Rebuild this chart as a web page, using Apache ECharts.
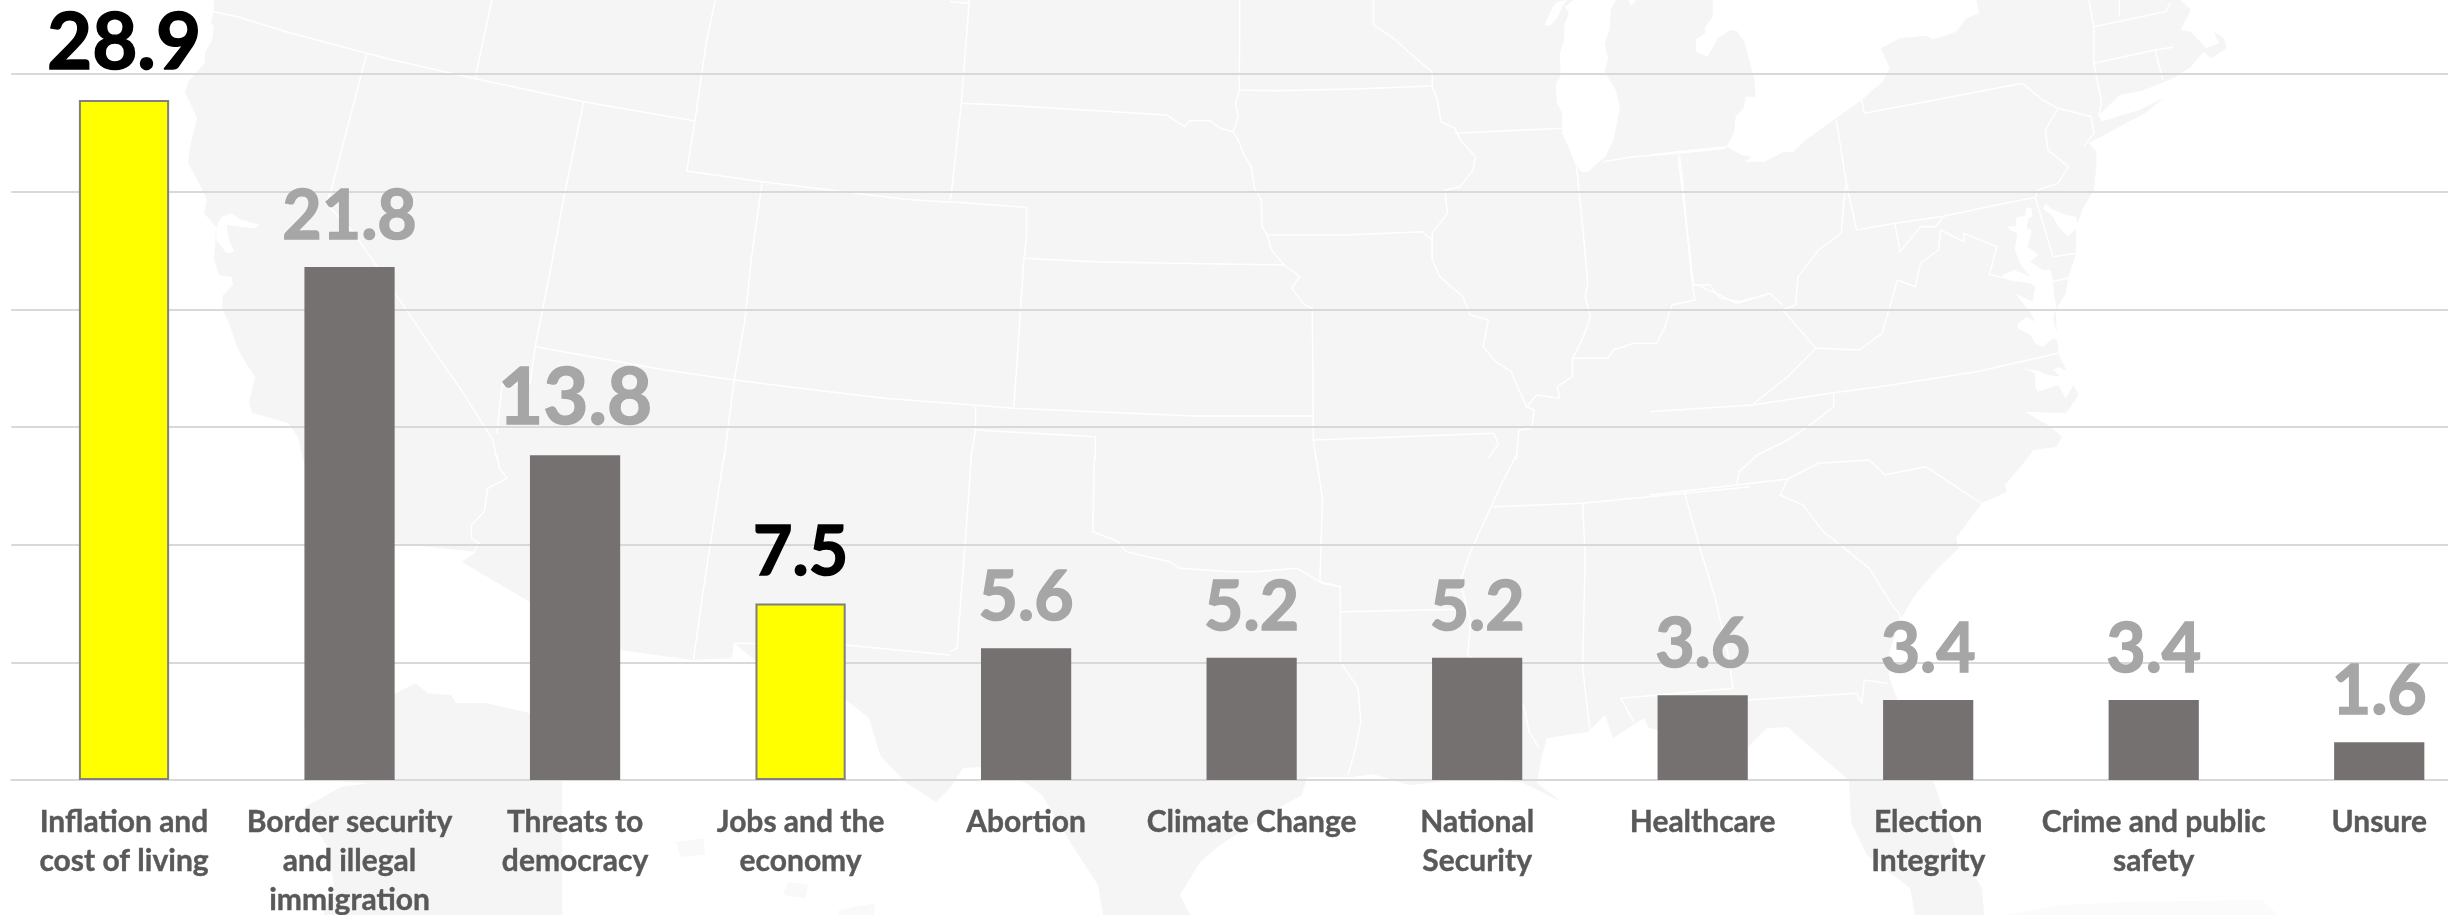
<!DOCTYPE html>
<html><head><meta charset="utf-8">
<style>html,body{margin:0;padding:0;background:#fff}#c{width:2448px;height:915px}</style>
<script src="https://cdn.jsdelivr.net/npm/echarts@6/dist/echarts.min.js"></script>
</head><body><div id="c"></div>
<script>
const categories = ["Inflation and\ncost of living","Border security\nand illegal\nimmigration","Threats to\ndemocracy","Jobs and the\neconomy","Abortion","Climate Change","National\nSecurity","Healthcare","Election\nIntegrity","Crime and public\nsafety","Unsure"];
const values = [28.9,21.8,13.8,7.5,5.6,5.2,5.2,3.6,3.4,3.4,1.6];
const highlighted = [0,3];
const largeLabels = [0,2];

// Decorative backdrop map (zoom-tile coordinates -> page pixels)
const T=(ox,oy,p)=>{const r=[];for(let i=0;i<p.length;i+=2)r.push([ox+p[i]/1.96,oy+p[i+1]/3]);return r;};
const z4=p=>T(150,0,p),z5=p=>T(150,455,p),z6=p=>T(950,0,p),z7=p=>T(950,455,p),z8=p=>T(1650,0,p),z9=p=>T(1650,455,p);
const F=p=>{const r=[];for(let i=0;i<p.length;i+=2)r.push([p[i],p[i+1]]);return r;};
const land=[].concat(
 F([214,0,214,12,211,22,214,27,212,40,205,53,205,63,188,82,185,92,197,118,191,142,188,163,201,187,207,200,204,213,216,227,215,247,214,260,219,275,232,277,233,285,223,295,222,308,229,323,237,347,244,360,255,377,249,403,252,413,267,417,288,423,298,437,303,460,390,537,394,543,476,552,462,562,530,602,619,650,693,660,732,658,734,643,755,660,846,700,869,718,880,755,905,782,936,802,950,788,963,768,980,767,1026,783,1042,795,1072,845,1098,885,1103,915,1190,915,1180,895,1200,862,1220,845,1266,815,1302,795,1307,777,1353,777,1373,774,1409,785,1460,780,1521,782,1562,802,1537,783,1542,755,1547,738,1588,732,1605,715,1613,738,1644,718,1649,728,1747,748,1767,728,1788,727,1808,745,1849,780,1851,822,1867,855,1910,888,1915,915,1984,915,1982,888,1956,848,1933,780,1905,720,1890,680,1887,660,1900,620,1915,595,1938,568,1959,548,1956,538,1982,503,2007,492,2005,485,2030,455,2033,450,2056,447,2062,437]),
 z8([785,1280,735,1235,815,1240,840,1185,830,1155,800,1060,795,930,815,880,820,830,835,760,835,680,850,620,870,570,875,500,875,455,860,430,890,405,970,340,1008,292,960,330,925,345,885,365,880,345,920,285,965,272,1030,232,1060,200,1085,155,1100,175,1130,145,1125,115,1105,95,1115,130,1090,145,1060,95,1040,90,1060,30,1040,0])
);
const whites=[
 z6([1222,0,1305,0,1295,30,1293,90,1283,130,1290,175,1283,215,1305,270,1313,325,1300,420,1285,470,1250,515,1237,515,1225,490,1212,440,1200,400,1200,340,1190,310,1187,255,1197,225,1195,160,1203,125,1205,70,1213,40,1205,20]),
 z6([1210,0,1190,5,1180,25,1165,75,1175,78,1190,55,1200,20]),
 z6([1330,0,1335,18,1345,0]),
 z8([123,0,123,50,108,80,108,100,90,118,90,155,113,170,133,115,158,90,170,92,185,125,205,240,207,290,188,290,183,325,168,350,165,395,150,440,180,465,200,470,185,485,225,485,262,455,282,455,305,420,360,360,415,300,440,265,455,248,470,205,460,170,452,145,490,115,540,107,555,118,600,95,620,55,645,40,640,0]),
 z8([738,622,748,625,750,650,742,655,738,685,748,690,745,710,740,740,762,765,745,785,770,810,785,810,790,840,792,880,796,920,790,960,805,1030,790,1015,770,1040,755,1030,745,1005,720,985,722,970,738,950,755,965,745,935,715,880,750,905,755,860,745,850,700,840,690,825,715,810,745,830,725,790,715,750,720,700,705,690,700,680,718,678,718,652,735,648]),
 z8([775,610,785,625,815,645,835,650,838,680,820,710,800,680,790,650,770,625]),
 z8([730,1105,755,1120,755,1160,760,1175,800,1155,815,1195,830,1155,825,1120,800,1100,790,1110,805,1130,780,1125,760,1112]),
 z4([130,680,140,650,160,640,180,660,215,675,205,685,150,675,155,720,165,755,150,760,130,720])
];
const mexicoPatch=z5([302,800,478,718,520,685,545,715,590,720,600,745,660,745,745,775,808,800,808,1380,340,1380,360,1290,350,1180,300,1060,375,995,430,985,330,975]);
const faintPatches=[z5([1240,1320,1250,1280,1290,1290,1285,1330]),z5([1350,1365,1420,1345,1420,1380,1350,1380]),z5([1030,1160,1085,1150,1088,1200,1040,1205])];
const cubaGlow=z9([700,1380,800,1350,950,1340,1200,1335,1230,1380]);
const lines=[
 z4([125,35,175,52,270,97,425,160,470,178,640,237,850,305,1000,345,1068,363]),
 z4([425,160,355,570,345,610,400,700,445,800,560,1060,610,1170,672,1320,680,1380]),
 z5([680,0,685,40,700,70,662,100,655,170,630,210,630,250,645,265,635,290]),
 z4([670,0,637,237]),
 z4([850,305,810,600,785,810,755,1040,745,1150,690,1155,680,1300]),
 z4([755,1040,1010,1110,1145,1140,1315,1172,1440,1195,1568,1210]),
 z4([1108,0,1090,130,1068,363,1052,513,1200,545,1360,575,1480,598,1568,607]),
 z4([1200,545,1180,760,1165,970,1145,1140,1125,1380]),
 z5([1125,0,1085,400,1065,615]),
 z5([1145,565,1362,570,1568,600]),
 z6([0,605,150,622,150,710,145,775,285,785,440,790,655,795,685,830,670,865,695,915,710,925,712,1248,712,1320,718,1380]),
 z6([145,775,125,1225]),
 z6([0,1210,125,1225,285,1235,480,1248,712,1248]),
 z6([0,5,38,10]),z6([38,0,22,310,5,550,0,605]),
 z6([22,310,100,315,425,345,460,380,470,362,510,362,530,385,555,395,565,420,575,460,590,500,597,565,610,600,612,680,622,705,630,750,655,795]),
 z6([622,705,775,705,925,695,945,720]),
 z6([568,0,567,270,640,272,790,267,945,258]),z6([567,270,560,310,565,350,555,395]),
 z6([830,0,830,75,865,110,895,150,915,178,945,215,945,258,955,300,962,365,990,385,1000,420,1030,470,1025,510,1000,560,970,570,975,640,945,700,945,780,960,830,1005,890,1020,945,1055,960,1045,1040,1070,1085,1100,1115,1115,1170,1130,1220,1145,1230,1140,1285,1115,1290,1110,1380]),
 z7([1110,0,1080,90,1050,190,1020,290,1000,380,1020,500,1015,600]),
 z6([990,400,1050,395,1200,385]),
 z6([1228,500,1240,680,1250,850,1245,890,1255,950,1240,1015,1220,1075,1220,1130,1190,1160,1195,1195,1150,1185,1130,1220]),
 z6([1220,1075,1290,1075,1300,1050,1340,1030,1385,1030,1400,985,1415,915,1460,900,1455,855,1490,855,1510,895,1550,905,1568,895]),
 z6([1430,470,1435,530,1445,700,1455,850]),
 z6([1280,485,1340,470,1425,460,1520,445]),
 z6([50,1220,50,1290,285,1310,285,1380]),z6([50,1290,40,1380]),
 z7([283,0,280,230,330,260,345,290,430,320,450,340,550,350,600,350,680,340,730,385,765,395,765,620,800,700,805,800,795,880,780,960]),
 z7([42,0,30,260,14,580,0,590]),
 z6([712,1320,860,1312,1065,1300,1075,1330,1055,1375]),
 z7([717,0,730,130,725,380,765,395]),z7([765,470,1000,463]),
 z7([1065,155,1240,145,1440,115,1568,95]),
 z7([1240,145,1245,300,1240,640,1255,835]),
 z7([1440,115,1470,280,1500,430,1525,600,1535,700,1315,730,1340,800]),
 z7([1015,600,1125,755,1135,830,1155,880]),
 z9([190,735,405,715,415,745,420,675,465,685]),
 z8([0,1235,200,1215,360,1178,450,1160,640,1115,800,1060]),
 z8([360,1178,360,1220,310,1280,270,1320,210,1365]),z9([210,0,175,50,170,90]),
 z9([0,120,270,72,330,25,430,15,460,60,540,35,650,145]),
 z9([270,72,255,120,300,150,340,230,430,340,470,440,490,480,490,520]),
 z8([200,1215,270,1130,325,1045,260,930,285,915,290,830,330,750,375,700,380,600,385,550,365,360]),
 z8([385,550,405,690,480,670,570,650,680,615,755,592,790,770,835,760]),
 z8([85,850,130,880,170,910,235,880,260,915]),z8([55,465,85,850]),
 z8([0,465,55,455,150,440]),
 z8([415,300,420,340,540,305,730,250,770,300,800,325,865,350,870,400,850,440]),
 z8([800,325,775,390,780,450,820,500,800,550,760,570,755,592]),
 z8([480,670,490,755,530,680,560,680,575,650]),
 z8([325,1045,410,1050,455,1000,470,920,485,840,520,860,530,790,565,750,570,690,615,725,615,700,680,740,665,825,720,840]),
 z8([790,845,820,833]),
 z8([860,0,870,80,870,190,885,305,880,345]),z8([870,80,1010,35,1020,10]),z8([870,190,990,150,1025,142]),z8([990,150,1005,240]),z8([920,0,920,50])
];
const graphicEls=[];
const poly=(pts,fill)=>graphicEls.push({type:'polygon',silent:true,z:-10,shape:{points:pts},style:{fill:fill}});
poly(land,'#f5f5f5');poly(mexicoPatch,'#f5f5f5');
faintPatches.forEach(p=>poly(p,'#f9f9f9'));poly(cubaGlow,'#fbfbfb');
whites.forEach(p=>poly(p,'#ffffff'));
lines.forEach(p=>graphicEls.push({type:'polyline',silent:true,z:-9,shape:{points:p},style:{stroke:'#ffffff',lineWidth:1.5,fill:null}}));

const font='Lato';
const barData=values.map((v,i)=>{
  const hi=highlighted.includes(i), big=largeLabels.includes(i), col=hi?'#000000':'#a6a6a6';
  return {value:v,
    itemStyle:hi?{color:'#ffff00',borderColor:'#7f7f7f',borderWidth:2}:{color:'#767171'},
    label:{color:col,textBorderColor:col,textBorderWidth:1.5,fontSize:big?78:68,distance:big?17:16}};
});
const chart=echarts.init(document.getElementById('c'),null,{renderer:'canvas'});
chart.setOption({
  animation:false,backgroundColor:'#ffffff',
  graphic:{elements:graphicEls},
  grid:{left:11.25,right:-44,top:74,bottom:135,containLabel:false,outerBoundsMode:'none'},
  xAxis:{type:'category',data:categories,
    axisTick:{show:false},
    axisLine:{lineStyle:{color:'#d9d9d9',width:2}},
    axisLabel:{interval:0,color:'#595959',textBorderColor:'#595959',textBorderWidth:0.4,fontFamily:font,fontWeight:'bold',fontSize:30,lineHeight:39,margin:23}},
  yAxis:{type:'value',min:0,max:30,interval:5,
    axisLabel:{show:false},axisLine:{show:false},axisTick:{show:false},
    splitLine:{lineStyle:{color:'#d9d9d9',width:2}}},
  series:[{type:'bar',data:barData,barWidth:'40%',
    label:{show:true,position:'top',fontFamily:font,fontWeight:'bold'}}]
});
</script></body></html>
